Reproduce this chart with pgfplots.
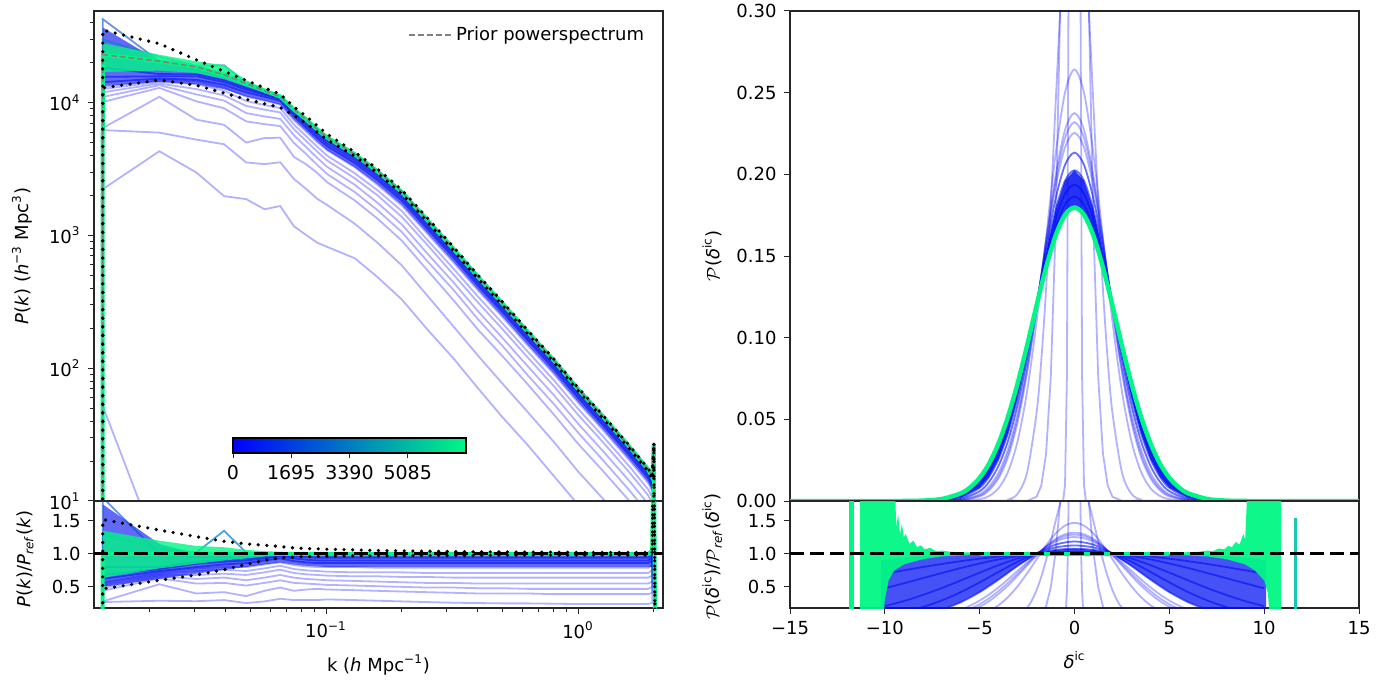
\documentclass[border=0pt]{standalone}
\usepackage{pgfplots}
\usepackage{pgfplotstable}
\pgfplotsset{compat=1.18}
\usepackage{fontspec}
\setmainfont{DejaVu Sans}
\definecolor{wblue}{rgb}{0,0,1}
\definecolor{wdark}{rgb}{0,0.06,0.95}
\definecolor{wmid}{rgb}{0,0.3,0.85}
\definecolor{wteal}{rgb}{0,0.5,0.75}
\definecolor{wgreen}{rgb}{0,0.97,0.52}
\definecolor{wtealline}{rgb}{0.1,0.78,0.7}
\tikzset{
  faint/.style={draw=wblue, draw opacity=0.3, line width=0.9pt},
  dense/.style={draw=wdark, draw opacity=0.6, line width=0.9pt},
  blkdot/.style={black, line width=1.8pt, line cap=round, dash pattern=on 0pt off 4.3pt},
}
\pgfplotsset{
  every axis/.append style={scale only axis, tick align=outside, tick pos=left,
    major tick length=3.2pt, minor tick length=1.8pt,
    axis line style={black!85, line width=0.6pt},
    every tick/.style={black!85, line width=0.5pt},
    tick label style={font=\fontsize{9}{10}\selectfont},
    label style={font=\fontsize{9}{10}\selectfont}, no markers}
}
% top-left power spectra P(k)
\pgfplotstableread{
k M B C D E F G H I J1 J2 J3 J4 T U L
0.01299 0.001 0.001 0.001 0.001 0.001 0.001 0.001 0.001 0.001 0.001 0.001 0.001 0.001 0.001 0.001 0.001
0.0130 23000 2231 6210 6440 10120 11040 11960 12650 13110 14260 15640 18400 42550 29900 35200 12900
0.0218 20500 4305 5945 11070 12915 13530 13940 14350 14760 15170 15785 16400 20500 22140 27800 14800
0.0306 18600 2976 5264 7440 10230 11532 12648 13764 14508 14880 15810 16368 17670 18972 21000 13500
0.0394 16200 1976 4860 6804 9072 10368 11340 12312 12960 13608 14256 14742 15390 19116 17200 11800
0.0482 13900 1877 3545 5004 7228 8340 9452 10286 11120 11954 12510 12927 13344 14178 14700 10600
0.0570 12300 1574 3444 5412 6888 7872 8856 9594 10332 11070 11439 11685 11931 12300 12900 9800
0.0658 11100 1665 3552 5439 6660 7548 8436 9102 9657 10323 10656 10878 10989 11100 11600 9200
0.0746 8870 1171 2661 3903 4967 5677 6298 6830 7362 7894 8249 8515 8693 8870 9300 8000
0.0834 7460 1007 2238 3432 4103 4625 5147 5595 6043 6490 6789 7087 7236 7460 7900 7000
0.0922 6300 882 1890 2961 3402 3843 4284 4662 5040 5418 5670 5922 6111 6300 6700 6000
0.101 5470 820 1696 2516 2899 3282 3665 3993 4376 4704 4923 5142 5306 5470 5800 5250
0.13 4080 673 1224 1836 2122 2407 2693 2938 3264 3509 3672 3835 3958 4080 4240 3960
0.16 3040 486 882 1338 1550 1763 2006 2189 2402 2614 2736 2858 2949 3040 3160 2950
0.2 2120 329 594 912 1060 1208 1378 1526 1675 1823 1908 1993 2056 2120 2200 2060
0.25 1330 200 359 559 652 745 865 944 1051 1144 1197 1250 1290 1330 1380 1290
0.32 795 119 207 326 390 445 509 564 628 684 716 747 771 795 822 771
0.4 490 71 125 196 235 270 314 348 387 421 441 461 475 490 505 475
0.5 309 43 77 124 148 170 198 219 244 266 278 290 300 309 318 300
0.63 189 26.5 47 76 89 104 121 134 149 163 170 178 183 189 194 183
0.8 115 15.5 28 45 54 63 73.6 81.7 90.9 98.9 103.5 108 111.6 115 118 112
1.0 69.7 9.4 16.7 27 32.8 38.3 44.6 49.5 55.1 59.9 62.7 65.5 67.6 69.7 71.4 67.6
1.25 43.7 5.7 10.5 17 20.5 24.0 28.0 31.0 34.5 37.6 39.3 41.1 42.4 43.7 44.6 42.4
1.6 25.6 3.3 6.1 10 12.0 14.1 16.4 18.2 20.2 22.0 23.0 24.1 24.8 25.6 26.1 24.8
1.9 17.2 2.2 4.1 6.7 8.1 9.5 11.0 12.2 13.6 14.8 15.5 16.2 16.7 17.2 17.5 16.7
1.97 15.0 1.95 3.6 5.9 7.1 8.3 9.6 10.7 11.9 12.9 13.5 14.1 14.6 15.0 15.2 14.6
2.0 27 3.5 6.5 10.6 12.8 15 17.3 19.3 21.4 23.2 24.3 25.4 26.3 27 27.4 26.3
2.02 0.001 0.001 0.001 0.001 0.001 0.001 0.001 0.001 0.001 0.001 0.001 0.001 0.001 0.001 0.001 0.001
}\tabP
% bottom-left ratios P/Pref
\pgfplotstableread{
k C D E F G H I J1 J2 J3 J4 T Gr U L
0.01299 0 0 0 0 0 0 0 0 0 0 0 0 0 0 0
0.0130 0.27 0.28 0.44 0.48 0.52 0.55 0.57 0.62 0.68 0.80 1.85 1.30 1.00 1.52 0.47
0.0218 0.29 0.54 0.63 0.66 0.68 0.70 0.72 0.74 0.77 0.80 1.00 1.08 1.00 1.36 0.60
0.0306 0.283 0.40 0.55 0.62 0.68 0.74 0.78 0.80 0.85 0.88 0.95 1.02 1.00 1.26 0.68
0.0394 0.30 0.42 0.56 0.64 0.70 0.76 0.80 0.84 0.88 0.91 0.95 1.35 1.00 1.19 0.76
0.0482 0.255 0.36 0.52 0.60 0.68 0.74 0.80 0.86 0.90 0.93 0.96 1.02 1.00 1.15 0.84
0.0570 0.28 0.44 0.56 0.64 0.72 0.78 0.84 0.90 0.93 0.95 0.97 1.00 1.00 1.13 0.90
0.0658 0.32 0.49 0.60 0.68 0.76 0.82 0.87 0.93 0.96 0.98 0.99 1.00 1.00 1.11 0.94
0.0746 0.30 0.44 0.56 0.64 0.71 0.77 0.83 0.89 0.93 0.96 0.98 1.00 1.00 1.09 0.95
0.0834 0.30 0.46 0.55 0.62 0.69 0.75 0.81 0.87 0.91 0.95 0.97 1.00 1.00 1.08 0.96
0.0922 0.30 0.47 0.54 0.61 0.68 0.74 0.80 0.86 0.90 0.94 0.97 1.00 1.00 1.075 0.96
0.101 0.31 0.46 0.53 0.60 0.67 0.73 0.80 0.86 0.90 0.94 0.97 1.00 1.00 1.07 0.965
0.13 0.30 0.45 0.52 0.59 0.66 0.72 0.80 0.86 0.90 0.94 0.97 1.00 1.00 1.06 0.97
0.16 0.29 0.44 0.51 0.58 0.66 0.72 0.79 0.86 0.90 0.94 0.97 1.00 1.00 1.05 0.97
0.2 0.28 0.43 0.50 0.57 0.65 0.72 0.79 0.86 0.90 0.94 0.97 1.00 1.00 1.045 0.97
0.25 0.27 0.42 0.49 0.56 0.65 0.71 0.79 0.86 0.90 0.94 0.97 1.00 1.00 1.04 0.975
0.32 0.26 0.41 0.49 0.56 0.64 0.71 0.79 0.86 0.90 0.94 0.97 1.00 1.00 1.035 0.975
0.4 0.255 0.40 0.48 0.55 0.64 0.71 0.79 0.86 0.90 0.94 0.97 1.00 1.00 1.03 0.975
0.5 0.25 0.40 0.48 0.55 0.64 0.71 0.79 0.86 0.90 0.94 0.97 1.00 1.00 1.03 0.98
0.63 0.25 0.40 0.47 0.55 0.64 0.71 0.79 0.86 0.90 0.94 0.97 1.00 1.00 1.025 0.98
0.8 0.245 0.39 0.47 0.55 0.64 0.71 0.79 0.86 0.90 0.94 0.97 1.00 1.00 1.025 0.98
1.0 0.24 0.39 0.47 0.55 0.64 0.71 0.79 0.86 0.90 0.94 0.97 1.00 1.00 1.02 0.98
1.25 0.24 0.39 0.47 0.55 0.64 0.71 0.79 0.86 0.90 0.94 0.97 1.00 1.00 1.02 0.98
1.6 0.24 0.39 0.47 0.55 0.64 0.71 0.79 0.86 0.90 0.94 0.97 1.00 1.00 1.02 0.98
1.9 0.24 0.39 0.47 0.55 0.64 0.71 0.79 0.86 0.90 0.94 0.97 1.00 1.00 1.02 0.98
1.97 0.26 0.41 0.50 0.58 0.67 0.75 0.83 0.90 0.94 0.98 1.01 1.05 1.05 1.06 1.00
2.0 3 3 3 3 3 3 3 3 3 3 3 3 3 3 3
2.02 0 0 0 0 0 0 0 0 0 0 0 0 0 0 0
}\tabR
\begin{document}
\begin{tikzpicture}
\useasboundingbox (0pt,0pt) rectangle (695.5pt,-342pt);
%================ top left =================
\begin{axis}[at={(47pt,-5.5pt)}, anchor=north west, width=284.5pt, height=245pt,
  xmode=log, ymode=log, xmin=0.0120, xmax=2.174, ymin=10, ymax=49000,
  xtick=\empty, xminorticks=false,
  ytick={10,100,1000,10000},
  yticklabels={10\textsuperscript{1},10\textsuperscript{2},10\textsuperscript{3},10\textsuperscript{4}},
  minor ytick={20,30,40,50,60,70,80,90,200,300,400,500,600,700,800,900,2000,3000,4000,5000,6000,7000,8000,9000,20000,30000,40000},
  ylabel={\textit{P}(\textit{k}) (\textit{h}\textsuperscript{−3} Mpc\textsuperscript{3})},
  ylabel style={at={(axis description cs:-0.1265,0.5)}, anchor=center},
  legend style={at={(0.985,0.985)}, anchor=north east, draw=none, fill=none, font=\fontsize{9}{11}\selectfont},
  legend image code/.code={\draw[#1] (0pt,0pt) -- (21pt,0pt);},
]
\addplot[faint, forget plot] coordinates {(0.01299,0.001) (0.0130,52) (0.0218,4) (0.0306,2) (2.0,0.5)};
\addplot[faint, forget plot] table[x=k,y=B]{\tabP};
\addplot[faint, forget plot] table[x=k,y=C]{\tabP};
\addplot[faint, forget plot] table[x=k,y=D]{\tabP};
\addplot[faint, forget plot] table[x=k,y=E]{\tabP};
\addplot[faint, forget plot] table[x=k,y=F]{\tabP};
\addplot[faint, forget plot] table[x=k,y=G]{\tabP};
\addplot[faint, forget plot] table[x=k,y=H]{\tabP};
\addplot[faint, forget plot] table[x=k,y=I]{\tabP};
\addplot[fill=wdark, fill opacity=0.62, draw=none, forget plot] coordinates {
(0.0130,36800)(0.0218,20500)(0.0306,18600)(0.0394,16200)(0.0482,13900)(0.0570,12300)(0.0658,11100)(0.0746,8870)(0.0834,7460)(0.0922,6300)(0.101,5470)(0.13,4080)(0.16,3040)(0.2,2120)(0.25,1330)(0.32,795)(0.4,490)(0.5,309)(0.63,189)(0.8,115)(1.0,69.7)(1.25,43.7)(1.6,25.6)(1.9,17.2)(1.97,15.0)
(1.97,12.0)(1.9,13.8)(1.6,20.5)(1.25,35.0)(1.0,55.8)(0.8,92)(0.63,151)(0.5,247)(0.4,392)(0.32,636)(0.25,1064)(0.2,1696)(0.16,2432)(0.13,3264)(0.101,4376)(0.0922,5103)(0.0834,6117)(0.0746,7451)(0.0658,9657)(0.0570,10332)(0.0482,11120)(0.0394,12636)(0.0306,13764)(0.0218,14350)(0.0130,13340)};
\addplot[dense, forget plot] table[x=k,y=J1]{\tabP};
\addplot[dense, forget plot] table[x=k,y=J2]{\tabP};
\addplot[dense, forget plot] table[x=k,y=J3]{\tabP};
\addplot[draw=wmid, draw opacity=0.6, line width=0.9pt, forget plot] table[x=k,y=J4]{\tabP};
\addplot[draw=wteal, draw opacity=0.6, line width=0.9pt, forget plot] table[x=k,y=T]{\tabP};
\addplot[fill=wgreen, fill opacity=0.8, draw=none, forget plot] coordinates {
(0.0130,28060)(0.0218,22960)(0.0306,20460)(0.0394,19116)(0.0482,14734)(0.0570,12792)(0.0658,11433)(0.0746,9047)(0.0834,7609)(0.0922,6426)(0.101,5525)
(0.101,5415)(0.0922,6237)(0.0834,7385)(0.0746,8693)(0.0658,10878)(0.0570,11931)(0.0482,13205)(0.0394,15066)(0.0306,16740)(0.0218,17425)(0.0130,17020)};
\addplot[draw=wgreen, line width=2pt, forget plot] table[x=k,y=M]{\tabP};
\addplot[gray, line width=0.8pt, dash pattern=on 3pt off 1.4pt] table[x=k,y=M]{\tabP};
\addlegendentry{Prior powerspectrum}
\addplot[blkdot, forget plot] table[x=k,y=U]{\tabP};
\addplot[blkdot, forget plot] table[x=k,y=L]{\tabP};
\end{axis}
%================ colorbar =================
\begin{axis}[at={(116.5pt,-219pt)}, anchor=north west, width=116.5pt, height=7.5pt,
  xmin=0, xmax=6780, ymin=0, ymax=1, axis on top,
  xtick={0,1695,3390,5085}, xticklabels={0,1695,3390,5085}, ytick=\empty,
  axis line style={black, line width=0.6pt}, major tick length=2.6pt,
  tick label style={font=\fontsize{9.5}{10}\selectfont}]
\fill[left color=wblue, right color=wgreen] (axis cs:0,0) rectangle (axis cs:6780,1);
\end{axis}
%================ bottom left =================
\begin{axis}[at={(47pt,-250.5pt)}, anchor=north west, width=284.5pt, height=53.5pt,
  xmode=log, xmin=0.0120, xmax=2.174, ymin=0.18, ymax=1.8,
  ytick={0.5,1,1.5}, yticklabels={0.5,1.0,1.5},
  xtick={0.1,1}, xticklabels={10\textsuperscript{−1},10\textsuperscript{0}},
  minor xtick={0.02,0.03,0.04,0.05,0.06,0.07,0.08,0.09,0.2,0.3,0.4,0.5,0.6,0.7,0.8,0.9,2},
  ylabel={\textit{P}(\textit{k})/\textit{P}\textsubscript{\textit{ref}}(\textit{k})},
  ylabel style={at={(axis description cs:-0.121,0.46)}, anchor=center},
  xlabel={k (\textit{h} Mpc\textsuperscript{−1})},
  xlabel style={at={(axis description cs:0.5,-0.533)}, anchor=center},
]
\addplot[faint] table[x=k,y=C]{\tabR};
\addplot[faint] table[x=k,y=D]{\tabR};
\addplot[faint] table[x=k,y=E]{\tabR};
\addplot[faint] table[x=k,y=F]{\tabR};
\addplot[faint] table[x=k,y=G]{\tabR};
\addplot[faint] table[x=k,y=H]{\tabR};
\addplot[faint] table[x=k,y=I]{\tabR};
\addplot[fill=wdark, fill opacity=0.62, draw=none] coordinates {
(0.0130,1.75)(0.0218,1.15)(0.0306,1.0)(0.0394,1.0)(0.0482,0.99)(0.0570,0.99)(0.0658,0.99)(0.0746,0.99)(0.0834,0.99)(0.0922,0.99)(0.101,0.99)(0.13,0.99)(0.2,0.99)(0.32,0.99)(0.5,0.99)(0.8,0.99)(1.25,0.99)(1.97,0.99)
(1.97,0.80)(1.25,0.80)(0.8,0.80)(0.5,0.80)(0.32,0.80)(0.2,0.80)(0.13,0.80)(0.101,0.80)(0.0922,0.81)(0.0834,0.82)(0.0746,0.84)(0.0658,0.87)(0.0570,0.84)(0.0482,0.80)(0.0394,0.76)(0.0306,0.70)(0.0218,0.62)(0.0130,0.50)};
\addplot[dense] table[x=k,y=J1]{\tabR};
\addplot[dense] table[x=k,y=J2]{\tabR};
\addplot[dense] table[x=k,y=J3]{\tabR};
\addplot[draw=wmid, draw opacity=0.6, line width=0.9pt] table[x=k,y=J4]{\tabR};
\addplot[draw=wteal, draw opacity=0.7, line width=0.9pt] table[x=k,y=T]{\tabR};
\addplot[fill=wgreen, fill opacity=0.8, draw=none] coordinates {
(0.0130,1.35)(0.0218,1.2)(0.0306,1.12)(0.0394,1.1)(0.0482,1.06)(0.0570,1.04)(0.0658,1.03)(0.0746,1.02)(0.0834,1.02)(0.0922,1.02)(0.101,1.01)
(0.101,0.99)(0.0922,0.98)(0.0834,0.98)(0.0746,0.98)(0.0658,0.97)(0.0570,0.96)(0.0482,0.93)(0.0394,0.9)(0.0306,0.85)(0.0218,0.78)(0.0130,0.64)};
\addplot[draw=wgreen, line width=2pt] table[x=k,y=Gr]{\tabR};
\addplot[black, line width=1.6pt, dash pattern=on 7pt off 3pt] coordinates {(0.0120,1) (2.174,1)};
\addplot[blkdot] table[x=k,y=U]{\tabR};
\addplot[blkdot] table[x=k,y=L]{\tabR};
\end{axis}
%================ top right =================
\begin{axis}[at={(395pt,-5.5pt)}, anchor=north west, width=284.5pt, height=245pt,
  xmin=-15, xmax=15, ymin=0, ymax=0.3, xtick=\empty,
  ytick={0,0.05,0.1,0.15,0.2,0.25,0.3},
  yticklabels={0.00,0.05,0.10,0.15,0.20,0.25,0.30},
  ylabel={$\mathcal{P}$(\textit{δ}\textsuperscript{ic})},
  ylabel style={at={(axis description cs:-0.137,0.5)}, anchor=center},
]
\addplot[faint] coordinates {(-15,0)(-0.6,0)(-0.5,0.01)(-0.4,0.076)(-0.3,0.36)(-0.2,1.09)(-0.1,2.13)(0,2.66)(0.1,2.13)(0.2,1.09)(0.3,0.36)(0.4,0.076)(0.5,0.01)(0.6,0)(15,0)};
\addplot[faint] coordinates {(-15,0)(-2.5,0.0001)(-2,0.0026)(-1.75,0.0095)(-1.5,0.029)(-1.25,0.076)(-1,0.166)(-0.75,0.305)(-0.5,0.470)(-0.25,0.610)(0,0.665)(0.25,0.610)(0.5,0.470)(0.75,0.305)(1,0.166)(1.25,0.076)(1.5,0.029)(1.75,0.0095)(2,0.0026)(2.5,0.0001)(15,0)};
\addplot[faint, smooth] coordinates {(-15,0)(-4,0.0001)(-3.5,0.0009)(-3,0.0044)(-2.5,0.0175)(-2,0.054)(-1.75,0.0863)(-1.5,0.1295)(-1.25,0.1827)(-1,0.242)(-0.75,0.301)(-0.5,0.352)(-0.25,0.387)(0,0.399)(0.25,0.387)(0.5,0.352)(0.75,0.301)(1,0.242)(1.25,0.1827)(1.5,0.1295)(1.75,0.0863)(2,0.054)(2.5,0.0175)(3,0.0044)(3.5,0.0009)(4,0.0001)(15,0)};
\addplot[faint, smooth] coordinates {(-15,0)(-7,0)(-6,0.0001)(-5,0.0011)(-4.5,0.0031)(-4,0.0079)(-3.5,0.0180)(-3,0.0367)(-2.5,0.0671)(-2,0.1099)(-1.5,0.1613)(-1,0.2122)(-0.5,0.2501)(0,0.2642)(0.5,0.2501)(1,0.2122)(1.5,0.1613)(2,0.1099)(2.5,0.0671)(3,0.0367)(3.5,0.0180)(4,0.0079)(4.5,0.0031)(5,0.0011)(6,0.0001)(7,0)(15,0)};
\addplot[faint, smooth] coordinates {(-15,0)(-8,0)(-7,0.00004)(-6,0.0004)(-5,0.0028)(-4.5,0.0066)(-4,0.0140)(-3.5,0.0271)(-3,0.0482)(-2.5,0.0785)(-2,0.1169)(-1.5,0.1594)(-1,0.1989)(-0.5,0.2272)(0,0.2375)(0.5,0.2272)(1,0.1989)(1.5,0.1594)(2,0.1169)(2.5,0.0785)(3,0.0482)(3.5,0.0271)(4,0.0140)(4.5,0.0066)(5,0.0028)(6,0.0004)(7,0.00004)(8,0)(15,0)};
\addplot[faint, smooth] coordinates {(-15,0)(-8,0)(-7,0.0001)(-6,0.0005)(-5,0.0034)(-4.5,0.0076)(-4,0.0155)(-3.5,0.0293)(-3,0.0507)(-2.5,0.0807)(-2,0.1179)(-1.5,0.1585)(-1,0.1958)(-0.5,0.2223)(0,0.2319)(0.5,0.2223)(1,0.1958)(1.5,0.1585)(2,0.1179)(2.5,0.0807)(3,0.0507)(3.5,0.0293)(4,0.0155)(4.5,0.0076)(5,0.0034)(6,0.0005)(7,0.0001)(8,0)(15,0)};
\addplot[faint, smooth] coordinates {(-15,0)(-8,0)(-7,0.0001)(-6,0.0007)(-5,0.0042)(-4.5,0.0089)(-4,0.0175)(-3.5,0.0319)(-3,0.0536)(-2.5,0.0831)(-2,0.1190)(-1.5,0.1574)(-1,0.1922)(-0.5,0.2166)(0,0.2254)(0.5,0.2166)(1,0.1922)(1.5,0.1574)(2,0.1190)(2.5,0.0831)(3,0.0536)(3.5,0.0319)(4,0.0175)(4.5,0.0089)(5,0.0042)(6,0.0007)(7,0.0001)(8,0)(15,0)};
\addplot[dense, smooth] coordinates {(-15,0)(-8,0)(-7,0.0002)(-6,0.0012)(-5,0.0060)(-4.5,0.0118)(-4,0.0217)(-3.5,0.0370)(-3,0.0589)(-2.5,0.0873)(-2,0.1204)(-1.5,0.1546)(-1,0.1849)(-0.5,0.2058)(0,0.2133)(0.5,0.2058)(1,0.1849)(1.5,0.1546)(2,0.1204)(2.5,0.0873)(3,0.0589)(3.5,0.0370)(4,0.0217)(4.5,0.0118)(5,0.0060)(6,0.0012)(7,0.0002)(8,0)(15,0)};
\addplot[fill=wdark, fill opacity=0.85, draw=none] coordinates {
(-9,0)(-8,0.00005)(-7,0.0004)(-6,0.0020)(-5,0.0081)(-4.5,0.0149)(-4,0.0258)(-3.5,0.0418)(-3,0.0635)(-2.5,0.0905)(-2,0.1210)(-1.5,0.1515)(-1,0.1780)(-0.5,0.1961)(0,0.2025)(0.5,0.1961)(1,0.1780)(1.5,0.1515)(2,0.1210)(2.5,0.0905)(3,0.0635)(3.5,0.0418)(4,0.0258)(4.5,0.0149)(5,0.0081)(6,0.0020)(7,0.0004)(8,0.00005)(9,0)
(9,0.00005)(8,0.00027)(7,0.00125)(6,0.00466)(5.5,0.00835)(5,0.0142)(4.5,0.0230)(4,0.0355)(3.5,0.0519)(3,0.0721)(2.5,0.0953)(2,0.1198)(1.5,0.1430)(1,0.1624)(0.5,0.1752)(0,0.1797)(-0.5,0.1752)(-1,0.1624)(-1.5,0.1430)(-2,0.1198)(-2.5,0.0953)(-3,0.0721)(-3.5,0.0519)(-4,0.0355)(-4.5,0.0230)(-5,0.0142)(-5.5,0.00835)(-6,0.00466)(-7,0.00125)(-8,0.00027)(-9,0.00005)};
\addplot[dense, smooth] coordinates {(-15,0)(-9,0)(-8,0.00005)(-7,0.0004)(-6,0.0020)(-5,0.0081)(-4.5,0.0149)(-4,0.0258)(-3.5,0.0418)(-3,0.0635)(-2.5,0.0905)(-2,0.1210)(-1.5,0.1515)(-1,0.1780)(-0.5,0.1961)(0,0.2025)(0.5,0.1961)(1,0.1780)(1.5,0.1515)(2,0.1210)(2.5,0.0905)(3,0.0635)(3.5,0.0418)(4,0.0258)(4.5,0.0149)(5,0.0081)(6,0.0020)(7,0.0004)(8,0.00005)(9,0)(15,0)};
\addplot[dense, smooth] coordinates {(-15,0)(-9,0)(-8,0.0001)(-7,0.0006)(-6,0.0028)(-5,0.0102)(-4.5,0.0178)(-4,0.0294)(-3.5,0.0457)(-3,0.0671)(-2.5,0.0927)(-2,0.1209)(-1.5,0.1486)(-1,0.1722)(-0.5,0.1881)(0,0.1937)(0.5,0.1881)(1,0.1722)(1.5,0.1486)(2,0.1209)(2.5,0.0927)(3,0.0671)(3.5,0.0457)(4,0.0294)(4.5,0.0178)(5,0.0102)(6,0.0028)(7,0.0006)(8,0.0001)(9,0)(15,0)};
\addplot[dense, smooth] coordinates {(-15,0)(-9,0)(-8,0.0002)(-7,0.0009)(-6,0.0037)(-5,0.0122)(-4.5,0.0204)(-4,0.0325)(-3.5,0.0489)(-3,0.0698)(-2.5,0.0942)(-2,0.1204)(-1.5,0.1458)(-1,0.1671)(-0.5,0.1814)(0,0.1864)(0.5,0.1814)(1,0.1671)(1.5,0.1458)(2,0.1204)(2.5,0.0942)(3,0.0698)(3.5,0.0489)(4,0.0325)(4.5,0.0204)(5,0.0122)(6,0.0037)(7,0.0009)(8,0.0002)(9,0)(15,0)};
\addplot[draw=wgreen, line width=2.2pt, smooth] coordinates {(-15,0)(-10,0)(-9,0.00005)(-8,0.00027)(-7,0.00125)(-6,0.00466)(-5.5,0.00835)(-5,0.0142)(-4.5,0.0230)(-4,0.0355)(-3.5,0.0519)(-3,0.0721)(-2.5,0.0953)(-2,0.1198)(-1.5,0.1430)(-1,0.1624)(-0.5,0.1752)(0,0.1797)(0.5,0.1752)(1,0.1624)(1.5,0.1430)(2,0.1198)(2.5,0.0953)(3,0.0721)(3.5,0.0519)(4,0.0355)(4.5,0.0230)(5,0.0142)(5.5,0.00835)(6,0.00466)(7,0.00125)(8,0.00027)(9,0.00005)(10,0)(15,0)};
\end{axis}
%================ bottom right =================
\begin{axis}[at={(395pt,-250.5pt)}, anchor=north west, width=284.5pt, height=53.5pt,
  xmin=-15, xmax=15, ymin=0.18, ymax=1.8,
  ytick={0.5,1,1.5}, yticklabels={0.5,1.0,1.5},
  xtick={-15,-10,-5,0,5,10,15}, xticklabels={−15,−10,−5,0,5,10,15},
  ylabel={$\mathcal{P}$(\textit{δ}\textsuperscript{ic})/$\mathcal{P}$\textsubscript{\textit{ref}}(\textit{δ}\textsuperscript{ic})},
  ylabel style={at={(axis description cs:-0.137,0.48)}, anchor=center},
  xlabel={\textit{δ}\textsuperscript{ic}},
  xlabel style={at={(axis description cs:0.5,-0.486)}, anchor=center},
]
\addplot[faint] coordinates {(-0.6,0.003)(-0.5,0.06)(-0.45,0.17)(-0.4,0.43)(-0.35,0.99)(-0.3,2.02)(-0.2,6.1)(0,14.8)(0.2,6.1)(0.3,2.02)(0.35,0.99)(0.4,0.43)(0.45,0.17)(0.5,0.06)(0.6,0.003)};
\addplot[faint] coordinates {(-2,0.021)(-1.75,0.072)(-1.5,0.204)(-1.25,0.495)(-1,1.021)(-0.75,1.793)(-0.5,2.68)(0,3.7)(0.5,2.68)(0.75,1.793)(1,1.021)(1.25,0.495)(1.5,0.204)(1.75,0.072)(2,0.021)};
\addplot[faint, smooth] coordinates {(-3,0.061)(-2.5,0.184)(-2.25,0.295)(-2,0.451)(-1.75,0.655)(-1.5,0.905)(-1.25,1.191)(-1,1.490)(-0.75,1.774)(-0.5,2.01)(0,2.22)(0.5,2.01)(0.75,1.774)(1,1.490)(1.25,1.191)(1.5,0.905)(1.75,0.655)(2,0.451)(2.25,0.295)(2.5,0.184)(3,0.061)};
\addplot[faint, smooth] coordinates {(-6,0.006)(-5,0.077)(-4.5,0.135)(-4,0.223)(-3.5,0.347)(-3,0.509)(-2.5,0.704)(-2,0.918)(-1.5,1.128)(-1,1.307)(-0.5,1.427)(0,1.47)(0.5,1.427)(1,1.307)(1.5,1.128)(2,0.918)(2.5,0.704)(3,0.509)(3.5,0.347)(4,0.223)(4.5,0.135)(5,0.077)(6,0.006)};
\addplot[faint, smooth] coordinates {(-7,0.032)(-6,0.087)(-5.5,0.134)(-5,0.199)(-4.5,0.285)(-4,0.394)(-3.5,0.522)(-3,0.668)(-2.5,0.823)(-2,0.976)(-1.5,1.114)(-1,1.225)(-0.5,1.296)(0,1.321)(0.5,1.296)(1,1.225)(1.5,1.114)(2,0.976)(2.5,0.823)(3,0.668)(3.5,0.522)(4,0.394)(4.5,0.285)(5,0.199)(5.5,0.134)(6,0.087)(7,0.032)};
\addplot[faint, smooth] coordinates {(-7,0.047)(-6,0.113)(-5.5,0.167)(-5,0.238)(-4.5,0.328)(-4,0.438)(-3.5,0.564)(-3,0.702)(-2.5,0.846)(-2,0.985)(-1.5,1.109)(-1,1.206)(-0.5,1.269)(0,1.291)(0.5,1.269)(1,1.206)(1.5,1.109)(2,0.985)(2.5,0.846)(3,0.702)(3.5,0.564)(4,0.438)(4.5,0.328)(5,0.238)(5.5,0.167)(6,0.113)(7,0.047)};
\addplot[faint, smooth] coordinates {(-7,0.073)(-6,0.155)(-5.5,0.216)(-5,0.293)(-4.5,0.386)(-4,0.495)(-3.5,0.615)(-3,0.743)(-2.5,0.872)(-2,0.994)(-1.5,1.100)(-1,1.183)(-0.5,1.236)(0,1.254)(0.5,1.236)(1,1.183)(1.5,1.100)(2,0.994)(2.5,0.872)(3,0.743)(3.5,0.615)(4,0.495)(4.5,0.386)(5,0.293)(5.5,0.216)(6,0.155)(7,0.073)};
\addplot[fill=wdark, fill opacity=0.72, draw=none] coordinates {
(-10.2,0)(-10.2,0.9)(-9.5,0.93)(-8.5,0.96)(-7,0.98)(-5,0.99)(-3,1.0)(-2,1.01)(-1,1.06)(0,1.08)(1,1.06)(2,1.01)(3,1.0)(5,0.99)(7,0.98)(8.5,0.96)(9.5,0.93)(10.1,0.9)(10.1,0)
(7,0)(7,0.155)(6,0.266)(5,0.42)(4,0.611)(3,0.817)(2,0.99)(1,0.99)(0,0.99)(-1,0.99)(-2,0.99)(-3,0.817)(-4,0.611)(-5,0.42)(-6,0.266)(-7,0.155)(-7,0)};
\addplot[dense, smooth] coordinates {(-8,0.083)(-7,0.155)(-6,0.266)(-5,0.420)(-4,0.611)(-3,0.817)(-2,1.005)(-1,1.139)(0,1.187)(1,1.139)(2,1.005)(3,0.817)(4,0.611)(5,0.420)(6,0.266)(7,0.155)(8,0.083)};
\addplot[dense, smooth] coordinates {(-9,0.123)(-8,0.195)(-7,0.294)(-6,0.420)(-5,0.568)(-4,0.727)(-3,0.881)(-2,1.010)(-1,1.097)(0,1.127)(1,1.097)(2,1.010)(3,0.881)(4,0.727)(5,0.568)(6,0.420)(7,0.294)(8,0.195)(9,0.123)};
\addplot[dense, smooth] coordinates {(-10,0.209)(-9,0.285)(-8,0.377)(-7,0.482)(-6,0.597)(-5,0.715)(-4,0.829)(-3,0.930)(-2,1.009)(-1,1.060)(0,1.078)(1,1.060)(2,1.009)(3,0.930)(4,0.829)(5,0.715)(6,0.597)(7,0.482)(8,0.377)(9,0.285)(10,0.209)};
\addplot[dense, smooth] coordinates {(-10,0.478)(-9,0.554)(-8,0.632)(-6,0.785)(-4,0.916)(-2,1.006)(0,1.037)(2,1.006)(4,0.916)(6,0.785)(8,0.632)(9,0.554)(10,0.478)};
\addplot[dense, smooth] coordinates {(-10,0.699)(-8,0.800)(-6,0.889)(-4,0.959)(-2,1.003)(0,1.018)(2,1.003)(4,0.959)(6,0.889)(8,0.800)(10,0.699)};
\addplot[fill=wgreen, draw=none] coordinates {(-11.9,0)(-11.9,1.9)(-11.6,1.9)(-11.6,0)};
\addplot[fill=wgreen, fill opacity=0.95, draw=none] coordinates {
(-11.3,0)(-11.3,1.9)(-9.45,1.9)(-9.4,1.4)(-9.3,1.6)(-9.2,1.3)(-9.1,1.45)(-9.0,1.25)(-8.9,1.3)(-8.7,1.15)(-8.5,1.2)(-8.3,1.1)(-8.1,1.13)(-7.9,1.07)(-7.6,1.09)(-7.3,1.04)(-7,1.05)(-6.5,1.03)(-6,1.025)(-5,1.015)(-4,1.01)
(-4,0.99)(-5,0.985)(-6,0.975)(-7,0.96)(-7.5,0.94)(-8,0.92)(-8.5,0.88)(-9,0.84)(-9.5,0.75)(-9.8,0.6)(-10.0,0.3)(-10.1,0)};
\addplot[fill=wgreen, fill opacity=0.95, draw=none] coordinates {
(4,0.99)(4,1.01)(5,1.015)(6,1.025)(6.5,1.03)(7,1.05)(7.3,1.04)(7.6,1.08)(7.9,1.07)(8.1,1.12)(8.3,1.1)(8.5,1.18)(8.7,1.14)(8.9,1.3)(9.0,1.22)(9.1,1.9)(10.9,1.9)(10.9,0)
(10.3,0)(10.2,0.4)(10.0,0.6)(9.5,0.75)(9,0.84)(8.5,0.88)(8,0.92)(7.5,0.94)(7,0.96)(6,0.975)(5,0.985)};
\addplot[draw=wtealline, line width=1.3pt] coordinates {(11.65,0) (11.65,1.55)};
\addplot[draw=wgreen, line width=2pt] coordinates {(-5,1) (5,1)};
\addplot[black, line width=1.6pt, dash pattern=on 7pt off 3pt] coordinates {(-15,1) (15,1)};
\end{axis}
\end{tikzpicture}
\end{document}
